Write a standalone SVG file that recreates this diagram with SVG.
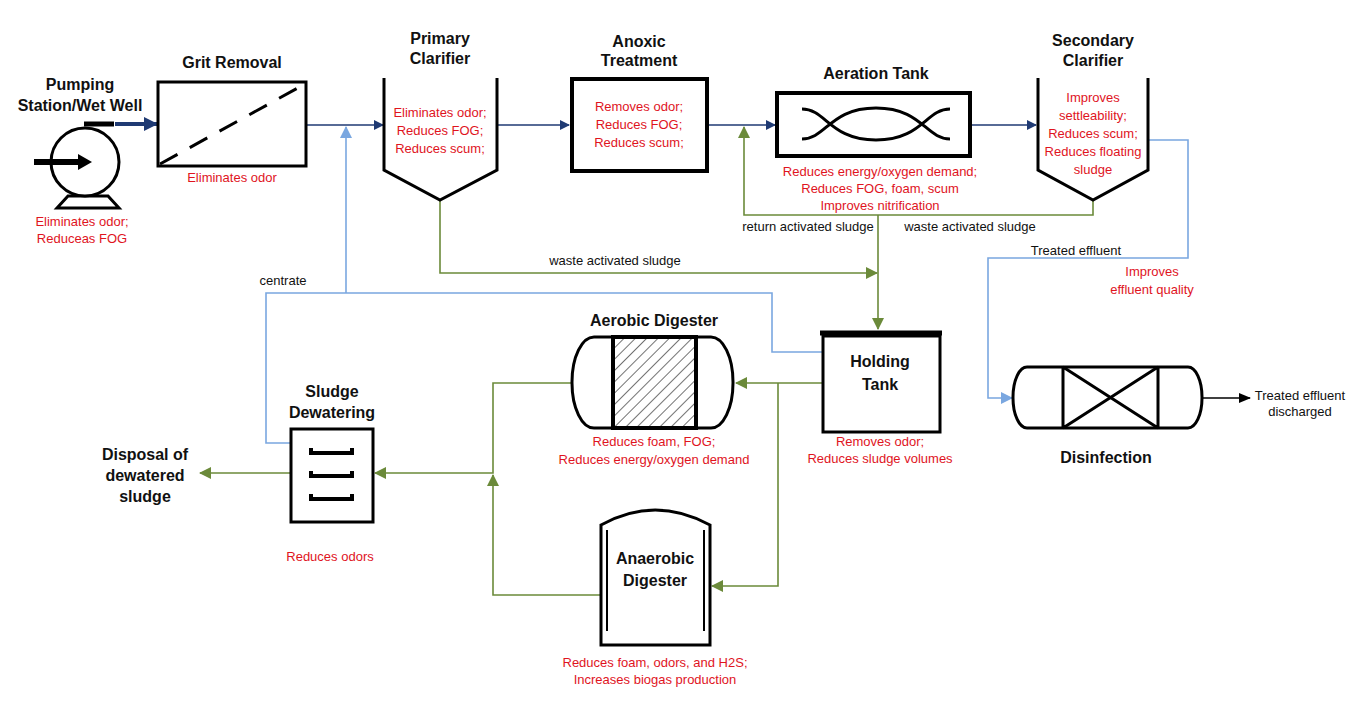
<svg xmlns="http://www.w3.org/2000/svg" width="1366" height="710" viewBox="0 0 1366 710">
<style>
.t{font-family:"Liberation Sans",Arial,sans-serif;font-weight:bold;font-size:16px;fill:#111;text-anchor:middle}
.r{font-family:"Liberation Sans",Arial,sans-serif;font-size:13px;fill:#e0141e;text-anchor:middle}
.k{font-family:"Liberation Sans",Arial,sans-serif;font-size:13px;fill:#111;text-anchor:middle}
.s{fill:#fff;stroke:#000;stroke-width:3}
.n{fill:none;stroke:#1f3a73;stroke-width:1.6}
.g{fill:none;stroke:#6b8a3a;stroke-width:1.6}
.b{fill:none;stroke:#7aa7e0;stroke-width:1.6}
</style>
<defs>
<marker id="an" markerWidth="10" markerHeight="10" refX="9" refY="5" orient="auto" markerUnits="userSpaceOnUse"><path d="M0,0L10,5L0,10z" fill="#1f3a73"/></marker>
<marker id="an2" markerWidth="14" markerHeight="14" refX="13" refY="7" orient="auto" markerUnits="userSpaceOnUse"><path d="M0,0L14,7L0,14z" fill="#1f3a73"/></marker>
<marker id="ag" markerWidth="12" markerHeight="12" refX="11" refY="6" orient="auto" markerUnits="userSpaceOnUse"><path d="M0,0L12,6L0,12z" fill="#6b8a3a"/></marker>
<marker id="ab" markerWidth="12" markerHeight="12" refX="11" refY="6" orient="auto" markerUnits="userSpaceOnUse"><path d="M0,0L12,6L0,12z" fill="#7aa7e0"/></marker>
<marker id="ak" markerWidth="12" markerHeight="10" refX="11" refY="5" orient="auto" markerUnits="userSpaceOnUse"><path d="M0,0L12,5L0,10z" fill="#000"/></marker>
<pattern id="h" width="8" height="8" patternUnits="userSpaceOnUse" patternTransform="rotate(45)"><path d="M0,0V8" stroke="#444" stroke-width="1.5"/></pattern>
</defs>
<rect width="1366" height="710" fill="#fff"/>
<g id="connectors">
<path d="M115,124H157" fill="none" stroke="#1f3a73" stroke-width="4" marker-end="url(#an2)"/>
<path class="n" d="M306,125H383" marker-end="url(#an)"/>
<path class="n" d="M497,125H569" marker-end="url(#an)"/>
<path class="n" d="M707,125H775" marker-end="url(#an)"/>
<path class="n" d="M970,125H1036" marker-end="url(#an)"/>
<path class="b" d="M346,293V127" marker-end="url(#ab)"/>
<path class="g" d="M440,200V273H877" marker-end="url(#ag)"/>
<path class="g" d="M1093,200V215H744V127" marker-end="url(#ag)"/>
<path class="g" d="M878,215V329" marker-end="url(#ag)"/>
<path class="b" d="M1148,140H1188V258H988V398H1012" marker-end="url(#ab)"/>
<path fill="none" stroke="#000" stroke-width="1.6" d="M1202,398H1250" marker-end="url(#ak)"/>
<path class="b" d="M822,352H772V293H266V443H290"/>
<path class="g" d="M822,383H736" marker-end="url(#ag)"/>
<path class="g" d="M778,383V586H712" marker-end="url(#ag)"/>
<path class="g" d="M572,383H493V473H375" marker-end="url(#ag)"/>
<path class="g" d="M607,595H493V475" marker-end="url(#ag)"/>
<path class="g" d="M290,473H200" marker-end="url(#ag)"/>
</g>
<g id="pump">
<path d="M57,208L68,196H108L119,208Z" fill="#fff" stroke="#000" stroke-width="3"/>
<circle cx="85" cy="162" r="34" class="s"/>
<path d="M34,162H80" stroke="#000" stroke-width="6"/><path d="M78,154L92,162L78,170z"/>
<path d="M84,124H114" stroke="#000" stroke-width="5"/>
<text class="t" x="80" y="90">Pumping</text><text class="t" x="80" y="111">Station/Wet Well</text>
<text class="r" x="82" y="226">Eliminates odor;</text><text class="r" x="82" y="243">Reduceas FOG</text>
</g>
<g id="grit">
<rect x="158" y="82" width="148" height="84" class="s"/>
<path d="M160,164L305,84" stroke="#000" stroke-width="3" stroke-dasharray="20,14"/>
<text class="t" x="232" y="68">Grit Removal</text>
<text class="r" x="232" y="182">Eliminates odor</text>
</g>
<g id="primary">
<path d="M384,78V170L440,200L497,170V78" fill="none" stroke="#000" stroke-width="3"/>
<text class="t" x="440" y="44">Primary</text><text class="t" x="440" y="64">Clarifier</text>
<text class="r" x="440" y="117">Eliminates odor;</text><text class="r" x="440" y="135">Reduces FOG;</text><text class="r" x="440" y="153">Reduces scum;</text>
</g>
<g id="anoxic">
<rect x="572" y="79" width="135" height="92" fill="#fff" stroke="#000" stroke-width="4"/>
<text class="t" x="639" y="47">Anoxic</text><text class="t" x="639" y="66">Treatment</text>
<text class="r" x="639" y="111">Removes odor;</text><text class="r" x="639" y="129">Reduces FOG;</text><text class="r" x="639" y="147">Reduces scum;</text>
</g>
<g id="aeration">
<rect x="777" y="93" width="193" height="63" fill="#fff" stroke="#000" stroke-width="4"/>
<path d="M802,109C826,109 830,140 876,140C922,140 926,109 950,109M802,139C826,139 830,108 876,108C922,108 926,139 950,139" fill="none" stroke="#000" stroke-width="3"/>
<text class="t" x="876" y="79">Aeration Tank</text>
<text class="r" x="880" y="176">Reduces energy/oxygen demand;</text><text class="r" x="880" y="193">Reduces FOG, foam, scum</text><text class="r" x="880" y="210">Improves nitrification</text>
</g>
<g id="secondary">
<path d="M1038,78V170L1093,200L1148,170V78" fill="none" stroke="#000" stroke-width="3"/>
<text class="t" x="1093" y="46">Secondary</text><text class="t" x="1093" y="66">Clarifier</text>
<text class="r" x="1093" y="102">Improves</text><text class="r" x="1093" y="120">settleability;</text><text class="r" x="1093" y="138">Reduces scum;</text><text class="r" x="1093" y="156">Reduces floating</text><text class="r" x="1093" y="174">sludge</text>
</g>
<g id="labels">
<text class="k" x="615" y="265">waste activated sludge</text>
<text class="k" x="808" y="231">return activated sludge</text>
<text class="k" x="970" y="231">waste activated sludge</text>
<text class="k" x="1076" y="255">Treated effluent</text>
<text class="r" x="1152" y="276">Improves</text><text class="r" x="1152" y="294">effluent quality</text>
<text class="k" x="283" y="285">centrate</text>
</g>
<g id="disinfection">
<rect x="1013" y="367" width="189" height="61" rx="14" ry="30" class="s"/>
<path d="M1063,367V428M1158,367V428M1063,367L1158,428M1158,367L1063,428" stroke="#000" stroke-width="3"/>
<text class="t" x="1106" y="463">Disinfection</text>
<text class="k" x="1300" y="400">Treated effluent</text><text class="k" x="1300" y="416">discharged</text>
</g>
<g id="holding">
<rect x="823" y="336" width="117" height="96" class="s" stroke-width="4"/>
<path d="M820,333H942" stroke="#000" stroke-width="5"/>
<text class="t" x="880" y="367">Holding</text><text class="t" x="880" y="390">Tank</text>
<text class="r" x="880" y="446">Removes odor;</text><text class="r" x="880" y="463">Reduces sludge volumes</text>
</g>
<g id="aerobic">
<rect x="572" y="337" width="161" height="91" rx="22" ry="45" class="s"/>
<rect x="613" y="337" width="83" height="91" fill="url(#h)" stroke="#000" stroke-width="4"/>
<text class="t" x="654" y="326">Aerobic Digester</text>
<text class="r" x="654" y="446">Reduces foam, FOG;</text><text class="r" x="654" y="464">Reduces energy/oxygen demand</text>
</g>
<g id="anaerobic">
<path d="M601,645V525Q655,495 710,525V645Z" class="s" stroke-width="4"/>
<path d="M607,530V631M704,530V631" stroke="#000" stroke-width="2"/>
<text class="t" x="655" y="564">Anaerobic</text><text class="t" x="655" y="586">Digester</text>
<text class="r" x="655" y="667">Reduces foam, odors, and H2S;</text><text class="r" x="655" y="684">Increases biogas production</text>
</g>
<g id="dewatering">
<rect x="291" y="429" width="82" height="93" class="s" stroke-width="4"/>
<path d="M311,448V453H352V448M311,471V476H352V471M311,494V499H352V494" fill="none" stroke="#000" stroke-width="4"/>
<text class="t" x="332" y="397">Sludge</text><text class="t" x="332" y="418">Dewatering</text>
<text class="r" x="330" y="561">Reduces odors</text>
<text class="t" x="145" y="460">Disposal of</text><text class="t" x="145" y="481">dewatered</text><text class="t" x="145" y="502">sludge</text>
</g>
</svg>
